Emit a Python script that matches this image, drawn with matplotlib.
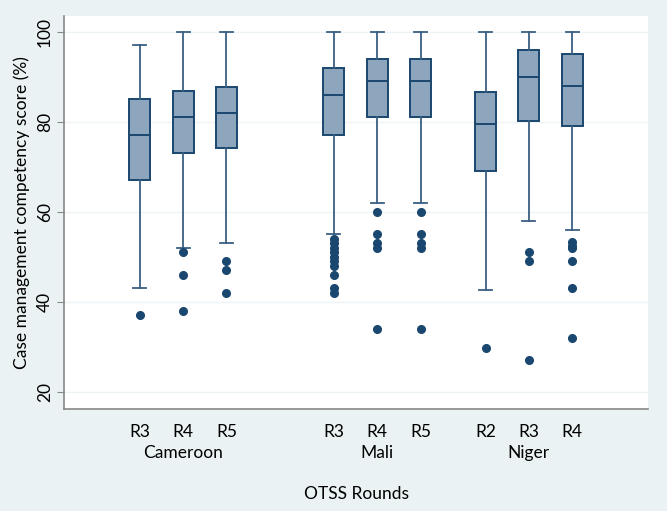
import matplotlib.pyplot as plt

# box plot values (score %)
rounds = ['R3', 'R4', 'R5', 'R3', 'R4', 'R5', 'R2', 'R3', 'R4']
countries = ['Cameroon', 'Mali', 'Niger']
positions = [1.75, 2.75, 3.75, 6.23, 7.23, 8.23, 9.73, 10.73, 11.73]
group_centers = [2.75, 7.23, 10.73]

whislo = [43, 52, 53, 55, 62, 62, 42.6, 58, 56]
q1 = [67, 73, 74.2, 77, 81, 81, 69, 80.2, 79]
med = [77, 81, 82, 86, 89, 89, 79.6, 90, 88]
q3 = [85, 86.8, 87.8, 92, 94, 94, 86.6, 96, 95]
whishi = [97, 100, 100, 100, 100, 100, 100, 100, 100]
fliers = [
    [37],
    [51, 46, 38],
    [49, 47, 42],
    [54, 53, 52, 51, 50, 49, 48, 46, 43, 42],
    [60, 55, 53, 52, 34],
    [60, 55, 53, 52, 34],
    [29.7],
    [51, 49, 27],
    [53.3, 52.5, 52, 49, 43, 32],
]

navy = '#1a476f'
fill = '#8ea6bd'
bg = '#eaf2f3'

plt.rcParams['font.family'] = ['Lato', 'DejaVu Sans']
fs = 12.5

fig = plt.figure(figsize=(6.67, 5.11), dpi=100, facecolor=bg)
ax = fig.add_axes([64/667, 102/511, 584/667, 393/511])
ax.set_facecolor('white')

stats = []
for i in range(len(rounds)):
    stats.append({'whislo': whislo[i], 'q1': q1[i], 'med': med[i], 'q3': q3[i],
                  'whishi': whishi[i], 'fliers': fliers[i]})

ax.bxp(stats, positions=positions, widths=0.485, capwidths=0.3,
       patch_artist=True, showfliers=True,
       boxprops=dict(facecolor=fill, edgecolor=navy, linewidth=1.4),
       medianprops=dict(color=navy, linewidth=1.4),
       whiskerprops=dict(color='#3b5f82', linewidth=1.3),
       capprops=dict(color='#3b5f82', linewidth=1.3),
       flierprops=dict(marker='o', markerfacecolor=navy, markeredgecolor=navy,
                       markersize=5.5))

ax.set_xlim(0, 13.48)
ax.set_ylim(16.2, 103.5)
ax.set_yticks([20, 40, 60, 80, 100])
ax.set_yticklabels(['20', '40', '60', '80', '100'], rotation=90, va='center')
ax.grid(axis='y', color='#eef4f6', linewidth=1)
ax.set_axisbelow(True)
ax.set_xticks(positions)
ax.set_xticklabels(rounds)
ax.tick_params(axis='x', length=0, pad=11, labelsize=fs)
ax.tick_params(axis='y', length=5, color='#888888', labelsize=fs, pad=3)

for s in ['top', 'right']:
    ax.spines[s].set_visible(False)
for s in ['left', 'bottom']:
    ax.spines[s].set_color('#888888')
    ax.spines[s].set_linewidth(1.2)

for c, name in zip(group_centers, countries):
    ax.text(c, -0.112, name, transform=ax.get_xaxis_transform(),
            ha='center', va='center', fontsize=fs)

ax.set_ylabel('Case management competency score (%)', fontsize=fs, labelpad=5)
fig.text((64 + 292) / 667, 1 - 494/511, 'OTSS Rounds', ha='center', va='center',
         fontsize=fs)

fig.savefig('out.png', dpi=100, facecolor=bg)
